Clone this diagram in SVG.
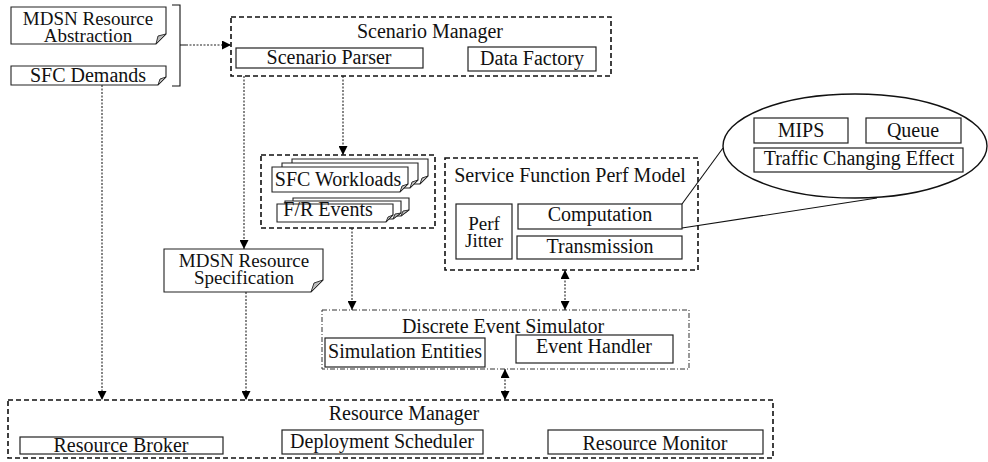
<svg xmlns="http://www.w3.org/2000/svg" width="988" height="462" viewBox="0 0 988 462" font-family="'Liberation Serif', 'DejaVu Serif', serif">
<defs>
<style>
text{font-family:'Liberation Serif','DejaVu Serif',serif;font-size:20px;fill:#111;text-anchor:middle}
text.two{font-size:19px}
.box{fill:#fff;stroke:#222;stroke-width:1.2}
.dash{fill:none;stroke:#111;stroke-width:1.6;stroke-dasharray:5 3}
.dashdot{fill:none;stroke:#333;stroke-width:1;stroke-dasharray:5 2 1 2}
.doc{fill:#fff;stroke:#222;stroke-width:1.1}
.fold{fill:#bbb;stroke:#222;stroke-width:0.9}
.conn{fill:none;stroke:#222;stroke-width:1.1;stroke-dasharray:2 1.5}
.solid{fill:none;stroke:#111;stroke-width:1.1}
</style>
<marker id="ah" viewBox="0 0 10 10" refX="10" refY="5" markerWidth="9" markerHeight="9" markerUnits="userSpaceOnUse" orient="auto-start-reverse">
<path d="M0,0 L10,5 L0,10 Z" fill="#000"/>
</marker>
</defs>

<g id="mdsn-abstraction">
<path class="doc" d="M11,7 H166 V34 L156,44 H11 Z"/>
<path class="fold" d="M166,34 L156,44 L158,36 Z"/>
<text class="two" x="88" y="25">MDSN Resource</text>
<text class="two" x="88" y="42">Abstraction</text>
</g>
<g id="sfc-demands">
<path class="doc" d="M11,66 H166 V77 L158,85 H11 Z"/>
<path class="fold" d="M166,77 L158,85 L160,79 Z"/>
<text x="88" y="82">SFC Demands</text>
</g>
<g id="bracket">
<path class="solid" d="M172,5 H180 V45 H186 M180,45 V86 H172"/>
</g>

<g id="scenario-manager">
<rect class="dash" x="231" y="17" width="380" height="59"/>
<text x="430" y="38">Scenario Manager</text>
<rect class="box" x="236" y="48" width="187" height="20"/>
<text x="329" y="64">Scenario Parser</text>
<rect class="box" x="468" y="47" width="128" height="24"/>
<text x="532" y="65">Data Factory</text>
</g>

<g id="workloads">
<rect class="dash" x="261" y="155" width="174" height="73"/>
<path class="doc" d="M292,159 H428 V176 L420,184 H292 Z"/>
<path class="fold" d="M428,176 L420,184 L422,178 Z"/>
<path class="doc" d="M282,163 H418 V180 L410,188 H282 Z"/>
<path class="fold" d="M418,180 L410,188 L412,182 Z"/>
<path class="doc" d="M272,167 H408 V184 L400,192 H272 Z"/>
<path class="fold" d="M408,184 L400,192 L402,186 Z"/>
<text x="338" y="186">SFC Workloads</text>
<path class="doc" d="M293,198 H409 V210 L401,216 H293 Z"/>
<path class="fold" d="M409,210 L401,216 L403,211 Z"/>
<path class="doc" d="M285,201 H401 V213 L393,219 H285 Z"/>
<path class="fold" d="M401,213 L393,219 L395,214 Z"/>
<path class="doc" d="M277,204 H393 V215 L386,222 H277 Z"/>
<path class="fold" d="M393,215 L386,222 L388,217 Z"/>
<text x="328" y="216">F/R Events</text>
</g>

<g id="sf-perf-model">
<rect class="dash" x="445" y="158" width="253" height="112"/>
<text x="570" y="182">Service Function Perf Model</text>
<rect class="box" x="456" y="204" width="56" height="55"/>
<text class="two" x="484" y="230">Perf</text>
<text class="two" x="484" y="247">Jitter</text>
<rect class="box" x="518" y="204" width="164" height="25"/>
<text x="600" y="221">Computation</text>
<rect class="box" x="517" y="236" width="165" height="23"/>
<text x="600" y="253">Transmission</text>
</g>

<g id="zoom-ellipse">
<ellipse cx="855" cy="146" rx="132" ry="52" fill="#fff" stroke="#111" stroke-width="1.4"/>
<rect class="box" x="754" y="118" width="94" height="25"/>
<text x="801" y="137">MIPS</text>
<rect class="box" x="866" y="118" width="95" height="25"/>
<text x="913" y="137">Queue</text>
<rect class="box" x="754" y="148" width="209" height="24"/>
<text x="859" y="165">Traffic Changing Effect</text>
</g>

<g id="mdsn-specification">
<path class="doc" d="M164,249 H323 V280 L311,292 H164 Z"/>
<path class="fold" d="M323,280 L311,292 L314,283 Z"/>
<text class="two" x="244" y="267">MDSN Resource</text>
<text class="two" x="244" y="284">Specification</text>
</g>

<g id="des">
<rect class="dashdot" x="322" y="310" width="367" height="59"/>
<text x="503" y="333">Discrete Event Simulator</text>
<rect class="box" x="325" y="338" width="160" height="29"/>
<text x="405" y="358">Simulation Entities</text>
<rect class="box" x="516" y="335" width="157" height="28"/>
<text x="594" y="353">Event Handler</text>
</g>

<g id="resource-manager">
<rect class="dash" x="8" y="400" width="765" height="58"/>
<text x="404" y="420">Resource Manager</text>
<rect class="box" x="20" y="437" width="203" height="17"/>
<text x="121" y="452">Resource Broker</text>
<rect class="box" x="282" y="430" width="201" height="24"/>
<text x="382" y="448">Deployment Scheduler</text>
<rect class="box" x="548" y="430" width="215" height="24"/>
<text x="655" y="450">Resource Monitor</text>
</g>

<g id="connectors">
<path class="conn" d="M186,45 H231" marker-end="url(#ah)"/>
<path class="conn" d="M244,76 V249" marker-end="url(#ah)"/>
<path class="conn" d="M343,76 V155" marker-end="url(#ah)"/>
<path class="conn" d="M102,85 V400" marker-end="url(#ah)"/>
<path class="conn" d="M246,292 V400" marker-end="url(#ah)"/>
<path class="conn" d="M352,228 V310" marker-end="url(#ah)"/>
<path class="conn" d="M565,270 V310" marker-start="url(#ah)" marker-end="url(#ah)"/>
<path class="conn" d="M505,369 V400" marker-start="url(#ah)" marker-end="url(#ah)"/>
<path class="solid" d="M682,204 L723,148"/>
<path class="solid" d="M682,228 L877,198"/>
</g>
</svg>
